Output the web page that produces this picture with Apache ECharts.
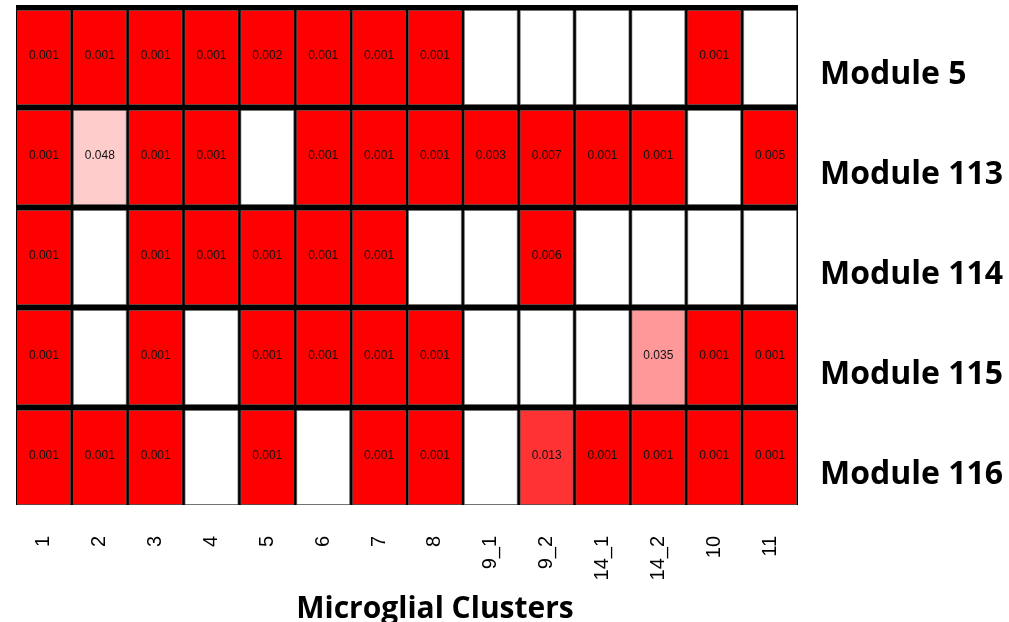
<!DOCTYPE html>
<html>
<head>
<meta charset="utf-8">
<script src="https://cdn.jsdelivr.net/npm/echarts@6/dist/echarts.min.js"></script>
<style>html,body{margin:0;padding:0;background:#fff}#c{width:1009px;height:622px}</style>
</head>
<body>
<div id="c"></div>
<script>
var clusters = ['1','2','3','4','5','6','7','8','9_1','9_2','14_1','14_2','10','11'];
var modules = ['Module 5','Module 113','Module 114','Module 115','Module 116'];
var module5   = [0.001,0.001,0.001,0.001,0.002,0.001,0.001,0.001,null,null,null,null,0.001,null];
var module113 = [0.001,0.048,0.001,0.001,null,0.001,0.001,0.001,0.003,0.007,0.001,0.001,null,0.005];
var module114 = [0.001,null,0.001,0.001,0.001,0.001,0.001,null,null,0.006,null,null,null,null];
var module115 = [0.001,null,0.001,null,0.001,0.001,0.001,0.001,null,null,null,0.035,0.001,0.001];
var module116 = [0.001,0.001,0.001,null,0.001,null,0.001,0.001,null,0.013,0.001,0.001,0.001,0.001];
var rows = [module5, module113, module114, module115, module116];

var data = [];
rows.forEach(function (row, j) {
  row.forEach(function (v, i) {
    data.push([i, j, v == null ? -1 : v]);
  });
});

function renderItem(params, api) {
  var x = api.value(0), y = api.value(1), v = api.value(2);
  var c = api.coord([x, y]);
  var s = api.size([1, 1]);
  var left = c[0] - s[0] / 2 + 1.5;
  var top = c[1] - s[1] / 2 + 5.5;
  var w = s[0] - 3;
  var h = s[1] - 6;
  var children = [{
    type: 'rect',
    shape: {x: left, y: top, width: w, height: h},
    style: {fill: v < 0 ? '#ffffff' : api.visual('color'), stroke: '#6a6a6a', lineWidth: 0.6}
  }];
  if (v >= 0) {
    children.push({
      type: 'text',
      style: {
        text: v.toFixed(3), x: left + w / 2, y: top + h / 2 - 2,
        align: 'center', verticalAlign: 'middle',
        font: '12px "Liberation Sans", Arial, sans-serif', fill: '#111'
      }
    });
  }
  return {type: 'group', children: children};
}

var chart = echarts.init(document.getElementById('c'), null, {renderer: 'canvas'});
chart.setOption({
  animation: false,
  backgroundColor: '#fff',
  grid: {left: 16, right: 211, top: 5, bottom: 117, show: true, backgroundColor: '#000', borderWidth: 0,
         containLabel: false, outerBoundsMode: 'none'},
  xAxis: {
    type: 'category', data: clusters, position: 'bottom',
    axisLine: {show: false}, axisTick: {show: false}, splitLine: {show: false},
    axisLabel: {rotate: 90, margin: 31, fontSize: 20, color: '#000', fontFamily: '"Liberation Sans", Arial, sans-serif'},
    name: 'Microglial Clusters', nameLocation: 'middle', nameGap: 89,
    nameTextStyle: {fontSize: 30, fontWeight: 'bold', color: '#000', fontFamily: '"Open Sans", sans-serif', padding: [0, 0, 0, 56]}
  },
  yAxis: {
    type: 'category', data: modules, inverse: true, position: 'right',
    axisLine: {show: false}, axisTick: {show: false}, splitLine: {show: false},
    axisLabel: {margin: 22, fontSize: 32, fontWeight: 'bold', color: '#000', fontFamily: '"Open Sans", sans-serif', verticalAlign: 'top', lineHeight: 40}
  },
  visualMap: {
    type: 'piecewise', show: false, dimension: 2, seriesIndex: 0,
    pieces: [
      {gte: 0, lt: 0.01, color: '#ff0000'},
      {gte: 0.01, lt: 0.02, color: '#ff3333'},
      {gte: 0.02, lt: 0.03, color: '#ff6666'},
      {gte: 0.03, lt: 0.04, color: '#ff9999'},
      {gte: 0.04, lt: 0.05, color: '#ffcccc'}
    ],
    outOfRange: {color: '#ffffff'}
  },
  series: [{
    type: 'custom',
    renderItem: renderItem,
    encode: {x: 0, y: 1},
    data: data
  }]
});
</script>
</body>
</html>
